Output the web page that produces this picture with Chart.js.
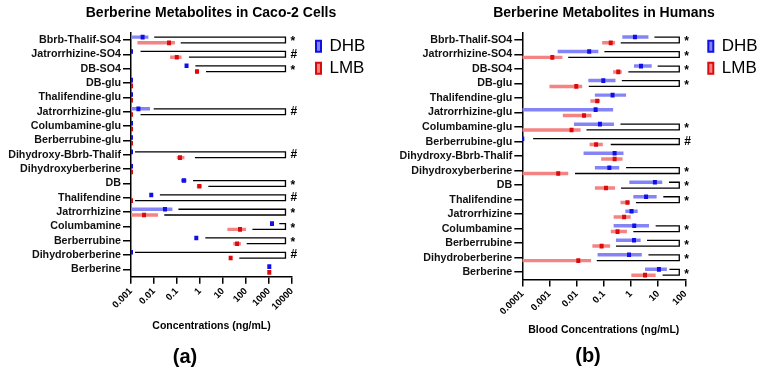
<!DOCTYPE html>
<html lang="en">
<head>
<meta charset="UTF-8">
<title>Berberine Metabolites</title>
<script src="https://cdn.jsdelivr.net/npm/chart.js"></script>
<style>
  body { margin: 0; background: #fff; font-family: "Liberation Sans", Arial, sans-serif; color: #000; }
  .panel { position: absolute; top: 0; }
  .title { position: absolute; top: 3.5px; width: 300px; text-align: center; font-weight: bold; font-size: 14px; line-height: 17px; }
  .tag { position: absolute; width: 60px; text-align: center; font-weight: bold; font-size: 20px; line-height: 24px; }
</style>
</head>
<body>
<div class="panel" style="left:0"><canvas id="caco" width="383" height="370"></canvas></div>
<div class="panel" style="left:383px"><canvas id="human" width="384" height="370"></canvas></div>
<div class="title" style="left:61px">Berberine Metabolites in Caco-2 Cells</div>
<div class="title" style="left:454px">Berberine Metabolites in Humans</div>
<div class="tag" style="left:155px; top:344px">(a)</div>
<div class="tag" style="left:558px; top:343px">(b)</div>
<script>
const metabolites = ['Bbrb-Thalif-SO4', 'Jatrorrhizine-SO4', 'DB-SO4', 'DB-glu', 'Thalifendine-glu',
  'Jatrorrhizine-glu', 'Columbamine-glu', 'Berberrubine-glu', 'Dihydroxy-Bbrb-Thalif', 'Dihydroxyberberine',
  'DB', 'Thalifendine', 'Jatrorrhizine', 'Columbamine', 'Berberrubine', 'Dihydroberberine', 'Berberine'];

// (a) Caco-2 cells, ng/mL: ranges [low, high] and medians
const cacoTicks = [0.001, 0.01, 0.1, 1, 10, 100, 1000, 10000];
const cacoDhbRange = [[0.001, 0.0057], null, null, null, null, [0.001, 0.0067], null, null, null, null,
  [0.15, 0.26], null, [0.001, 0.063], null, null, null, null];
const cacoDhbMedian = [0.0032, 0.001, 0.26, 0.001, 0.001, 0.0021, 0.001, 0.001, 0.001, 0.001,
  0.20, 0.0076, 0.030, 1350, 0.69, 0.001, 1030];
const cacoLmbRange = [[0.0019, 0.081], [0.050, 0.158], [0.6, 0.92], null, null, null, null, null, [0.098, 0.21], null,
  [0.73, 1.2], null, [0.001, 0.015], [15.5, 100], [28, 60], null, null];
const cacoLmbMedian = [0.045, 0.098, 0.74, 0.001, 0.001, 0.001, 0.001, 0.001, 0.135, 0.001,
  0.93, 0.001, 0.0037, 55, 41, 21.5, 1030];
// significance brackets: where each arm starts, and the mark
const cacoBracketDhb = [0.0102, 0.0026, 0.63, null, null, 0.0097, null, null, 0.0015, null,
  0.50, 0.018, 0.115, 2800, 1.7, 0.0015, null];
const cacoBracketLmb = [0.145, 0.33, 1.82, null, null, 0.0026, null, null, 0.60, null,
  2.3, 0.0015, 0.028, 190, 107, 51, null];
const cacoMarks = ['*', '#', '*', '', '', '#', '', '', '#', '', '*', '#', '*', '*', '*', '#', ''];
const cacoBracketEnd = 5200;

// (b) humans, blood ng/mL
const humanTicks = [0.0001, 0.001, 0.01, 0.1, 1, 10, 100];
const humanDhbRange = [[0.48, 4.4], [0.002, 0.063], [1.29, 5.8], [0.027, 0.27], [0.047, 0.66], [0.0001, 0.22],
  [0.008, 0.237], null, [0.018, 0.53], [0.047, 0.37], [0.87, 14.2], [1.22, 8.8], [0.62, 1.77], [0.23, 4.6],
  [0.28, 2.27], [0.059, 2.5], [3.3, 21]];
const humanDhbMedian = [1.40, 0.029, 2.34, 0.096, 0.21, 0.050, 0.072, 0.0001, 0.25, 0.16, 7.6, 3.6, 1.05, 1.32,
  1.29, 0.85, 10.7];
const humanLmbRange = [[0.087, 0.26], [0.0001, 0.003], [0.22, 0.46], [0.001, 0.016], [0.032, 0.073], [0.0031, 0.035],
  [0.0001, 0.014], [0.030, 0.092], [0.080, 0.49], [0.0001, 0.0049], [0.047, 0.26], [0.41, 0.91], [0.23, 0.98],
  [0.18, 0.71], [0.038, 0.17], [0.0001, 0.034], [1.03, 8.1]];
const humanLmbMedian = [0.18, 0.00127, 0.34, 0.0097, 0.057, 0.0187, 0.0065, 0.052, 0.25, 0.0021, 0.12, 0.74, 0.56,
  0.32, 0.083, 0.0115, 3.3];
const humanBracketDhb = [7.3, 0.105, 9.6, 0.46, null, null, 0.41, 0.00025, null, 0.66, 25, 15.5, null, 8.1, 3.9, 4.4, 26];
const humanBracketLmb = [0.42, 0.0049, 0.80, 0.028, null, null, 0.023, 0.18, null, 0.0087, 0.43, 1.52, null, 1.22,
  0.28, 0.055, 14.6];
const humanMarks = ['*', '*', '*', '*', '', '', '*', '#', '', '*', '*', '*', '', '*', '*', '*', '*'];
const humanBracketEnd = 60;

const BLUE = '#1010e6', BLUE_LIGHT = '#8484f7';
const RED = '#dc0a0a', RED_LIGHT = '#f48484';
const FONT = '"Liberation Sans", Arial, sans-serif';

Chart.defaults.font.family = FONT;
Chart.defaults.color = '#000';

// draws the bracket lines and the * / # marks
const bracketPlugin = {
  id: 'brackets',
  afterDatasetsDraw(chart, args, opts) {
    const ctx = chart.ctx;
    const x = chart.scales.x;
    const dhb = chart.getDatasetMeta(2).data;
    const lmb = chart.getDatasetMeta(3).data;
    const xe = x.getPixelForValue(opts.end);
    ctx.save();
    ctx.strokeStyle = '#000';
    ctx.lineWidth = 1.3;
    ctx.fillStyle = '#000';
    ctx.font = 'bold 12px ' + FONT;
    ctx.textBaseline = 'middle';
    opts.marks.forEach((m, i) => {
      if (!m) return;
      const y1 = dhb[i].y, y2 = lmb[i].y;
      ctx.beginPath();
      ctx.moveTo(x.getPixelForValue(opts.dhb[i]), y1);
      ctx.lineTo(xe, y1);
      ctx.lineTo(xe, y2);
      ctx.lineTo(x.getPixelForValue(opts.lmb[i]), y2);
      ctx.stroke();
      ctx.fillText(m, xe + 5, (y1 + y2) / 2 + (m === '*' ? 2 : 0));
    });
    ctx.restore();
  }
};

function makeChart(id, cfg) {
  const rangeSet = (label, data, color, stack) => ({
    label, data, stack, backgroundColor: color, order: 1,
    barPercentage: 0.6, categoryPercentage: 0.8, inflateAmount: 0, xAxisID: 'x', yAxisID: 'y'
  });
  const medianSet = (label, data, color, stack) => ({
    label, data: data.map(v => [v, v]), stack, backgroundColor: color, order: 0,
    barPercentage: 0.1, categoryPercentage: 0.8, inflateAmount: 2, xAxisID: 'x', yAxisID: 'y'
  });
  return new Chart(document.getElementById(id), {
    type: 'bar',
    data: {
      labels: metabolites,
      datasets: [
        rangeSet('DHB', cfg.dhbRange, BLUE_LIGHT, 'DHB'),
        rangeSet('LMB', cfg.lmbRange, RED_LIGHT, 'LMB'),
        medianSet('DHB median', cfg.dhbMedian, BLUE, 'DHB'),
        medianSet('LMB median', cfg.lmbMedian, RED, 'LMB')
      ]
    },
    plugins: [bracketPlugin],
    options: {
      indexAxis: 'y',
      responsive: false,
      animation: false,
      layout: { padding: cfg.padding },
      scales: {
        x: {
          type: 'logarithmic', position: 'bottom', stacked: false,
          min: cfg.ticks[0], max: cfg.ticks[cfg.ticks.length - 1],
          afterBuildTicks: s => { s.ticks = cfg.ticks.map(v => ({ value: v })); },
          ticks: {
            callback: v => String(v), minRotation: 45, maxRotation: 45, padding: 2,
            font: { size: 9.5, weight: 'bold' }, color: '#000'
          },
          grid: { drawOnChartArea: false, tickLength: 7, color: '#000', lineWidth: 1.5 },
          border: { color: '#000', width: 1.5 },
          title: { display: true, text: cfg.xTitle, font: { size: 10.5, weight: 'bold' }, padding: 0 },
          afterFit: s => { s.height = cfg.xHeight; }
        },
        y: {
          type: 'category',
          grid: { drawOnChartArea: false, offset: false, tickLength: 8, color: '#000', lineWidth: 1.5 },
          border: { color: '#000', width: 1.5 },
          ticks: { autoSkip: false, padding: 2, font: { size: 10.7, weight: 'bold' }, color: '#111' },
          afterFit: s => { s.width = cfg.yWidth; }
        },
        gap: {
          type: 'linear', axis: 'y', position: 'right',
          grid: { display: false }, border: { display: false }, ticks: { display: false },
          afterFit: s => { s.width = cfg.gapWidth; }
        }
      },
      plugins: {
        title: { display: false },
        legend: {
          position: 'right', align: 'start', maxWidth: 58,
          labels: {
            boxWidth: 5, boxHeight: 11, padding: 5, color: '#000',
            font: { size: 17 },
            generateLabels: () => [
              { text: 'DHB', fillStyle: BLUE_LIGHT, strokeStyle: BLUE, lineWidth: 2, datasetIndex: 0, hidden: false },
              { text: 'LMB', fillStyle: RED_LIGHT, strokeStyle: RED, lineWidth: 2, datasetIndex: 1, hidden: false }
            ]
          },
          onClick: () => {}
        },
        tooltip: { enabled: false },
        brackets: { dhb: cfg.bracketDhb, lmb: cfg.bracketLmb, marks: cfg.marks, end: cfg.bracketEnd }
      }
    }
  });
}

makeChart('caco', {
  xTitle: 'Concentrations (ng/mL)',
  ticks: cacoTicks, dhbRange: cacoDhbRange, dhbMedian: cacoDhbMedian,
  lmbRange: cacoLmbRange, lmbMedian: cacoLmbMedian,
  bracketDhb: cacoBracketDhb, bracketLmb: cacoBracketLmb, marks: cacoMarks, bracketEnd: cacoBracketEnd,
  padding: { left: 2.5, right: 14, top: 32.8, bottom: 38 },
  yWidth: 128.5, gapWidth: 19, xHeight: 55.3
});

makeChart('human', {
  xTitle: 'Blood Concentrations (ng/mL)',
  ticks: humanTicks, dhbRange: humanDhbRange, dhbMedian: humanDhbMedian,
  lmbRange: humanLmbRange, lmbMedian: humanLmbMedian,
  bracketDhb: humanBracketDhb, bracketLmb: humanBracketLmb, marks: humanMarks, bracketEnd: humanBracketEnd,
  padding: { left: 5, right: 5.7, top: 32.7, bottom: 33.4 },
  yWidth: 134.3, gapWidth: 18, xHeight: 57.1
});
</script>
</body>
</html>
